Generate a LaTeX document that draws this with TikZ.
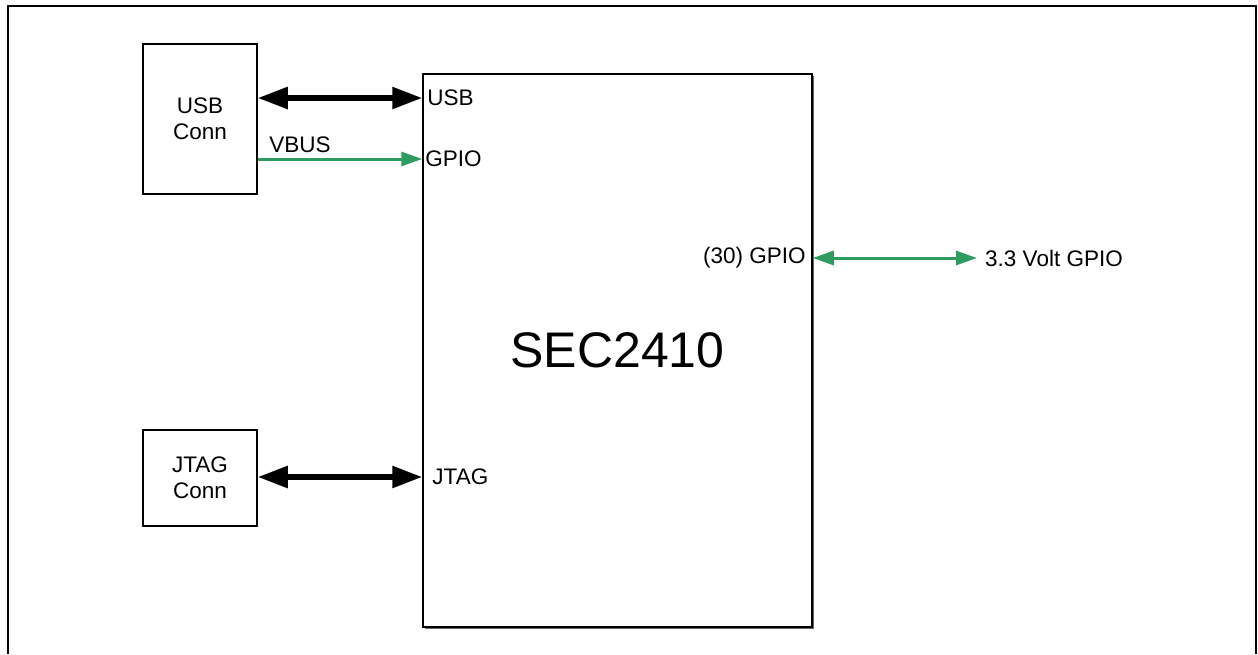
\documentclass[tikz,border=0pt]{standalone}
\usepackage{fontspec}
\setmainfont{Liberation Sans}
\usetikzlibrary{arrows.meta, shadows}
\definecolor{sigGreen}{RGB}{47,155,97}
\tikzstyle{conn} = [rectangle, draw=black, line width=1.5pt, minimum width=114pt, minimum height=96pt, inner sep=0pt, align=center, font=\fontsize{22.5}{26}\selectfont]
\tikzstyle{chip} = [rectangle, draw=black, line width=1.5pt, fill=white, minimum width=389pt, minimum height=553pt, inner sep=0pt, font=\fontsize{50}{58}\selectfont, drop shadow={shadow xshift=1.5pt, shadow yshift=-2pt, fill=black!60, opacity=1}]
\tikzstyle{port} = [inner sep=0pt, font=\fontsize{22.5}{26}\selectfont]
\tikzstyle{bus} = [line width=5.5pt, {Triangle[length=30pt,width=21pt]}-{Triangle[length=30pt,width=21pt]}]
\tikzstyle{sig} = [line width=3pt, draw=sigGreen, -{Triangle[length=21pt,width=14pt]}]

\begin{document}
\begin{tikzpicture}[x=1pt, y=-1pt]
\useasboundingbox (0,0) rectangle (1258,654);

% frame, open at the bottom
\draw [line width=2pt] (8,654) -- (8,6) -- (1256,6) -- (1256,654);

\node (sec) [chip] at (617.5,350.5) {SEC2410};
\node (usbConn) [conn, minimum height=150pt] at (200,119) {USB\\Conn};
\node (jtagConn) [conn] at (200,478) {JTAG\\Conn};

% pins on the chip
\coordinate (pUsb) at (sec.west |- 0,98);
\coordinate (pGpio) at (sec.west |- 0,159);
\coordinate (pJtag) at (sec.west |- 0,477);
\coordinate (pIo) at (sec.east |- 0,258);
\coordinate (ioEnd) at (977,258);

\node (lUsb) [port, anchor=west, xshift=5pt] at (pUsb) {USB};
\node (lGpio) [port, anchor=west, xshift=3pt] at (pGpio) {GPIO};
\node (lJtag) [port, anchor=west, xshift=10pt] at (pJtag) {JTAG};
\node (lIo) [port, anchor=east, xshift=-7pt] at (pIo) {(30) GPIO};
\node (lOut) [port, anchor=west, xshift=8pt] at (ioEnd) {3.3 Volt GPIO};

\draw [bus] (usbConn.east |- pUsb) -- (pUsb);
\draw [sig] (usbConn.east |- pGpio) -- node [port, anchor=south west, pos=0, xshift=10pt, yshift=5pt] {VBUS} (pGpio);
\draw [bus] (jtagConn.east |- pJtag) -- (pJtag);
\draw [sig, {Triangle[length=21pt,width=14pt]}-{Triangle[length=21pt,width=14pt]}] (pIo) -- (ioEnd);

\end{tikzpicture}
\end{document}
